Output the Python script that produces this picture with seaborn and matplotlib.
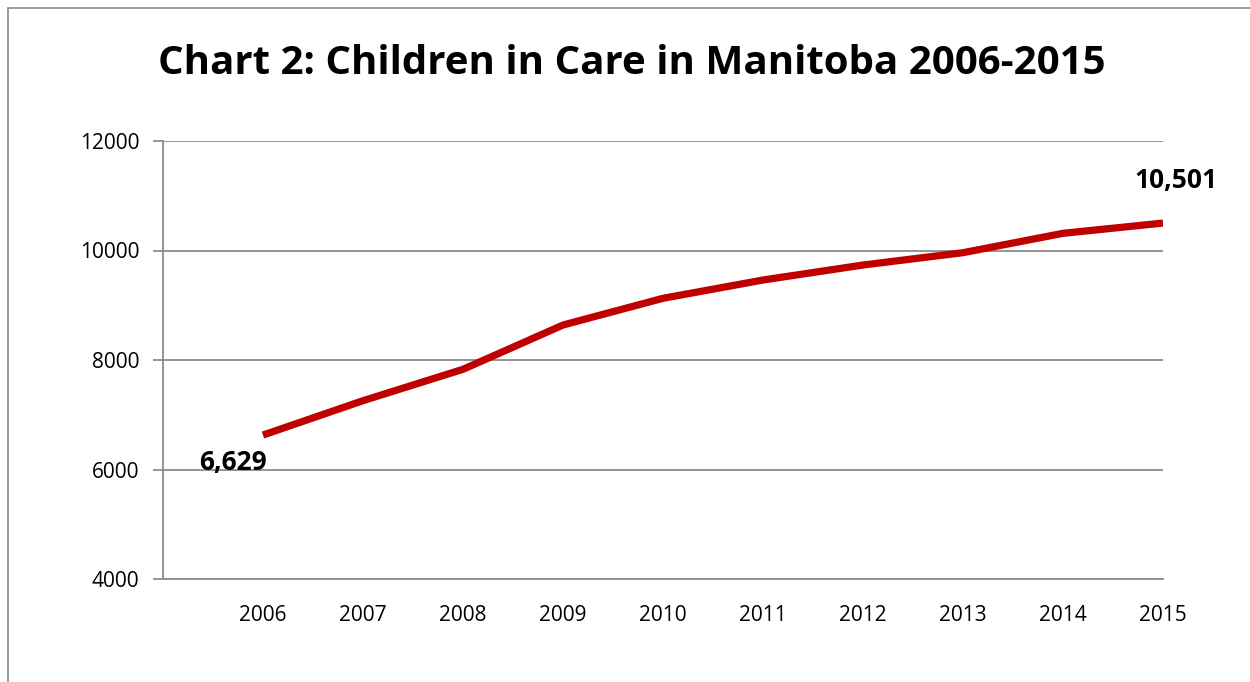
import matplotlib
matplotlib.use("Agg")
import matplotlib.pyplot as plt
import seaborn as sns
import pandas as pd
from matplotlib.patches import Rectangle

years = [2006, 2007, 2008, 2009, 2010, 2011, 2012, 2013, 2014, 2015]
children = [6629, 7257, 7830, 8639, 9127, 9461, 9735, 9960, 10314, 10501]
y_ticks = [4000, 6000, 8000, 10000, 12000]
title = "Chart 2: Children in Care in Manitoba 2006-2015"

df = pd.DataFrame({"year": years, "children": children})

sns.set_theme(style="white")
plt.rcParams['font.family'] = ['Open Sans', 'DejaVu Sans']

fig = plt.figure(figsize=(12.5, 6.82), dpi=100)
ax = fig.add_axes([163/1250, 1-579/682, 1000/1250, 438/682])

sns.lineplot(data=df, x="year", y="children", ax=ax, color="#C00000",
             linewidth=5.2, solid_capstyle="butt", solid_joinstyle="round")

ax.set_xlim(2005, 2015)
ax.set_ylim(4000, 12000)
ax.set_yticks(y_ticks)
ax.set_xticks(years)
ax.set_xticklabels([str(y) for y in years])
ax.grid(axis="y", color="#8c8c8c", linewidth=1.3)
ax.set_axisbelow(True)
for s in ["top", "right"]:
    ax.spines[s].set_visible(False)
ax.spines["left"].set_color("#8c8c8c")
ax.spines["left"].set_linewidth(1.3)
ax.spines["bottom"].set_color("#8c8c8c")
ax.spines["bottom"].set_linewidth(1.3)
ax.tick_params(axis="y", which="major", direction="out", length=7, width=1.3,
               color="#8c8c8c", labelsize=15, labelcolor="black", pad=10, left=True)
ax.tick_params(axis="x", length=0, labelsize=15, labelcolor="black", pad=19)
ax.set_xlabel("")
ax.set_ylabel("")

ax.annotate(f"{children[0]:,}", (years[0], children[0]), xytext=(-22, -20),
            textcoords="offset points", ha="center", va="center",
            fontsize=19, fontweight="bold", color="black")
ax.annotate(f"{children[-1]:,}", (years[-1], children[-1]), xytext=(9, 31),
            textcoords="offset points", ha="center", va="center",
            fontsize=19, fontweight="bold", color="black")

fig.text(632/1250, 1-63/682, title, ha="center", va="center",
         fontsize=29, fontweight="bold", color="black")

fig.patches.append(Rectangle((8/1250, -0.1), 1.2, 1-8/682+0.1,
                             transform=fig.transFigure, fill=False,
                             edgecolor="#8c8c8c", linewidth=1.2))

fig.savefig("out.png", dpi=100)
